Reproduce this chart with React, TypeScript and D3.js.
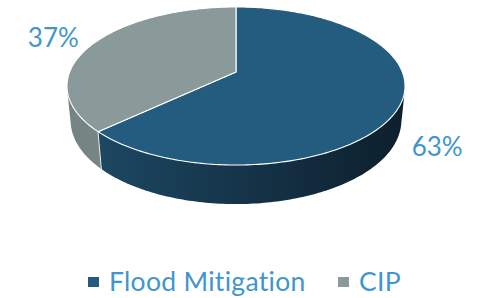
import { useEffect, useRef } from 'react';
import * as d3 from 'd3';

const categories = ['Flood Mitigation', 'CIP'];
const shares = [63, 37];
const valueLabels = ['63%', '37%'];

const topColors = ['#245c80', '#8a9999'];
const sideColors = [['#1e4b68', '#0d1f2c'], ['#768383', '#869494']];
const labelColor = '#3f96cc';

const W = 480;
const H = 298;
// perspective camera for the 3d disc
const CX = 236;
const CY = 72;
const ELEV = (27.4 * Math.PI) / 180;
const DIST = 5.017;
const FOCAL = 834.6;
const THICK = 0.237;
// label offsets from the rim point at the slice middle
const labelOffset = [
  { dx: 37, dy: 51 },
  { dx: -40, dy: 3 },
];

function project(a: number, r: number, z: number): [number, number] {
  const px = r * Math.sin(a);
  const py = -r * Math.cos(a);
  const depth = DIST - py * Math.cos(ELEV) - z * Math.sin(ELEV);
  const v = -py * Math.sin(ELEV) + z * Math.cos(ELEV);
  return [CX + (FOCAL * px) / depth, CY - (FOCAL * v) / depth];
}

function arcPoints(a0: number, a1: number, z: number) {
  const n = Math.max(2, Math.ceil(((a1 - a0) * 180) / Math.PI));
  return d3.range(n + 1).map(i => project(a0 + ((a1 - a0) * i) / n, 1, z));
}

export default function App() {
  const ref = useRef<SVGSVGElement>(null);

  useEffect(() => {
    const svg = d3.select(ref.current);
    svg.selectAll('*').remove();

    const pie = d3.pie<number>().sort(null).value(d => d).startAngle(0).endAngle(2 * Math.PI);
    const arcs = pie(shares);
    const line = d3.line();

    // range of the side wall that faces the camera
    const lim = Math.acos(-1 / (DIST * Math.cos(ELEV)));
    const visLo = lim;
    const visHi = 2 * Math.PI - lim;
    const xLeft = project(visHi, 1, 0)[0];
    const xRight = project(visLo, 1, 0)[0];

    const defs = svg.append('defs');
    sideColors.forEach((c, i) => {
      const g = defs.append('linearGradient')
        .attr('id', 'side' + i)
        .attr('gradientUnits', 'userSpaceOnUse')
        .attr('x1', xLeft).attr('x2', xRight).attr('y1', 0).attr('y2', 0);
      g.append('stop').attr('offset', '0%').attr('stop-color', c[0]);
      g.append('stop').attr('offset', '100%').attr('stop-color', c[1]);
    });

    const pieG = svg.append('g');

    // side walls
    arcs.forEach((a, i) => {
      const s = Math.max(a.startAngle, visLo);
      const e = Math.min(a.endAngle, visHi);
      if (s >= e) return;
      const pts = arcPoints(s, e, 0).concat(arcPoints(s, e, -THICK).reverse());
      pieG.append('path')
        .attr('d', line(pts) + 'Z')
        .attr('fill', `url(#side${i})`);
    });
    // vertical edges where slices meet on the side
    arcs.forEach(a => {
      const ang = a.startAngle;
      if (ang <= visLo || ang >= visHi) return;
      pieG.append('path')
        .attr('d', line([project(ang, 1, 0), project(ang, 1, -THICK)]))
        .attr('stroke', '#ffffff')
        .attr('stroke-opacity', 0.8)
        .attr('stroke-width', 1);
    });

    // top faces
    arcs.forEach((a, i) => {
      const pts = [project(0, 0, 0), ...arcPoints(a.startAngle, a.endAngle, 0)];
      pieG.append('path')
        .attr('d', line(pts) + 'Z')
        .attr('fill', topColors[i])
        .attr('stroke', '#ffffff')
        .attr('stroke-width', 1.1)
        .attr('stroke-linejoin', 'round');
    });

    // value labels
    arcs.forEach((a, i) => {
      const mid = (a.startAngle + a.endAngle) / 2;
      const [x, y] = project(mid, 1, 0);
      svg.append('text')
        .attr('x', x + labelOffset[i].dx)
        .attr('y', y + labelOffset[i].dy)
        .attr('text-anchor', 'middle')
        .attr('font-family', 'Lato, sans-serif')
        .attr('font-size', 26)
        .attr('fill', labelColor)
        .text(valueLabels[i]);
    });

    // legend
    const legendX = d3.scalePoint<string>().domain(categories).range([88, 338]);
    const lg = svg.append('g');
    categories.forEach((c, i) => {
      const x = legendX(c) as number;
      lg.append('rect')
        .attr('x', x).attr('y', 277)
        .attr('width', 11).attr('height', 10)
        .attr('fill', topColors[i]);
      lg.append('text')
        .attr('x', x + 21)
        .attr('y', 291)
        .attr('font-family', 'Lato, sans-serif')
        .attr('font-size', 26.5)
        .attr('letter-spacing', 0.3)
        .attr('fill', labelColor)
        .text(c);
    });
  }, []);

  return (
    <svg
      ref={ref}
      width={W}
      height={H}
      style={{ position: 'absolute', left: 0, top: 0, display: 'block', background: '#ffffff' }}
    />
  );
}
